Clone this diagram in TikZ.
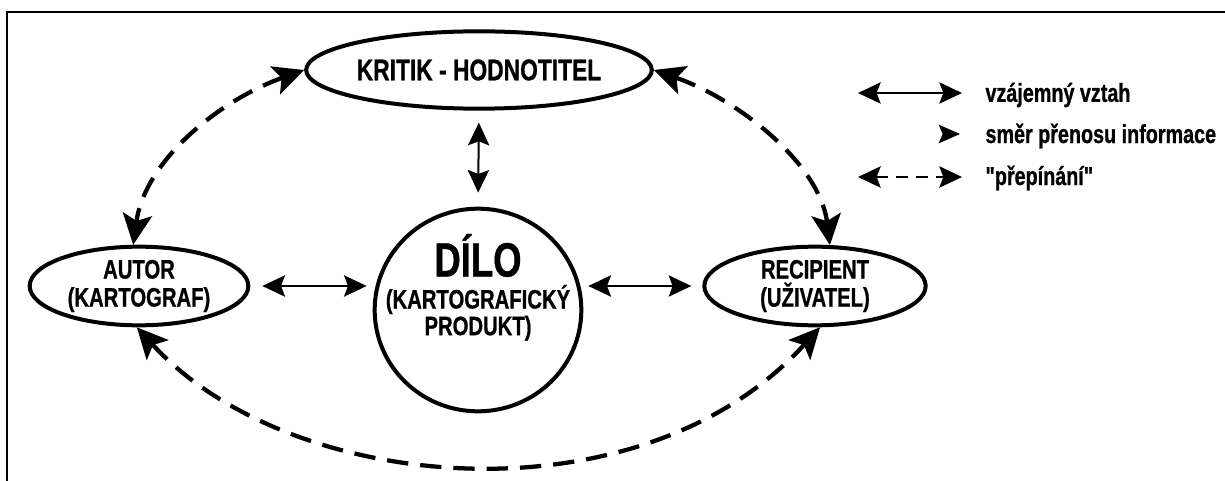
\documentclass[tikz,border=0pt]{standalone}
\usepackage{fontspec}
\newfontfamily\diafont{Liberation Sans}[FakeStretch=0.76, BoldFeatures={FakeStretch=0.76, FakeBold=0.8}]
\usetikzlibrary{shapes.geometric,arrows.meta}

\tikzset{every picture/.style={line width=0.75pt}}
\tikzset{
  oval/.style={draw, ellipse, line width=3pt, inner xsep=0pt, inner ysep=-5pt, align=center, font=\diafont\bfseries\fontsize{20}{21}\selectfont},
  dilotext/.style={align=center, inner sep=0pt, font=\diafont\bfseries\fontsize{20}{20}\selectfont},
  mutual/.style={line width=1.5pt, {Stealth[length=17pt,width=16pt,inset=3pt]}-{Stealth[length=17pt,width=16pt,inset=3pt]}},
  switching/.style={line width=3.2pt, dash pattern=on 16pt off 9pt, {Stealth[length=23pt,width=22pt,inset=5pt]}-{Stealth[length=23pt,width=22pt,inset=5pt]}},
  legtext/.style={anchor=west, inner sep=0pt, font=\diafont\bfseries\fontsize{19.5}{21}\selectfont},
}

\begin{document}
\begin{tikzpicture}[x=0.75pt,y=0.75pt,yscale=-1,xscale=1]
\useasboundingbox (0,0) rectangle (1225,481);

%Frame
\draw [line width=1.5pt] (1225,12) -- (7,12) -- (7,481) ;

%Ellipses
\node [oval, minimum width=234pt, minimum height=58pt, font=\diafont\bfseries\fontsize{22.5}{23}\selectfont] (kritik) at (479,70) {KRITIK - HODNOTITEL};
\node [oval, minimum width=164pt, minimum height=59pt] (autor) at (139,286) {AUTOR\\(KARTOGRAF)};
\node [oval, minimum width=166pt, minimum height=59pt] (recipient) at (815,286) {RECIPIENT\\(UŽIVATEL)};
\node [oval, minimum width=155pt, minimum height=152pt,
  label={[dilotext, yshift=17pt]center:{{\fontsize{36}{32}\selectfont DÍLO}\\[4pt](KARTOGRAFICKÝ\\PRODUKT)}}] (dilo) at (478,310) {};

%Mutual relations
\draw [mutual, shorten <=9pt, shorten >=4.5pt] (autor.east) -- (autor.east -| dilo.west) ;
\draw [mutual, shorten <=3.75pt, shorten >=8.25pt] (dilo.east |- recipient.west) -- (recipient.west) ;
\draw [mutual, shorten <=9pt, shorten >=10.5pt] (kritik.south) -- (dilo.north) ;

%Switching
\draw [switching] (kritik.west) .. controls (220,100) and (145,160) .. (autor.98) ;
\draw [switching] (kritik.east) .. controls (740,100) and (820,165) .. (recipient.70) ;
\draw [switching] (autor.-93) .. controls (290,495) and (640,525) .. (recipient.-83) ;

%Legend
\coordinate (vzA) at (858,93) ;
\coordinate (vzB) at (962,93) ;
\draw [mutual, line width=1pt] (vzA) -- (vzB) ;
\node [legtext] (vz) at (985,95) {vzájemný vztah};

\coordinate (smA) at (944,134) ;
\coordinate (smB) at (960,134) ;
\draw [line width=1pt, -{Stealth[length=16pt,width=14pt,inset=3pt]}] (smA) -- (smB) ;
\node [legtext] (sm) at (985,136) {směr přenosu informace};

\coordinate (prA) at (858,177) ;
\coordinate (prB) at (962,177) ;
\draw [mutual, dash pattern=on 9pt off 6pt] (prA) -- (prB) ;
\node [legtext] (pr) at (985,178) {"přepínání"};

\end{tikzpicture}
\end{document}
